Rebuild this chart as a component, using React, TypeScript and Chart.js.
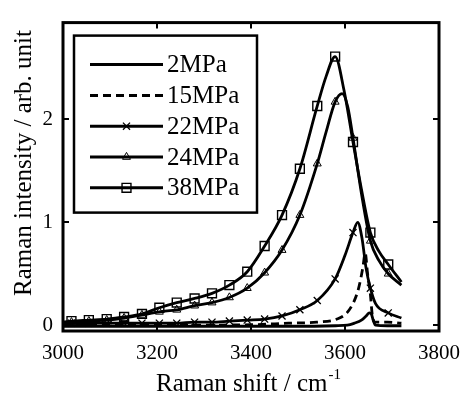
import React, { useEffect, useRef } from "react";
import { Chart, registerables } from "chart.js";

Chart.register(...registerables);

const LABELS = ["2MPa", "15MPa", "22MPa", "24MPa", "38MPa"];
const MARKER_X = [3018, 3055, 3093, 3130, 3168, 3205, 3242, 3280, 3317, 3354, 3392, 3429, 3466, 3504, 3541, 3579, 3617, 3654, 3692];

const X_2MPA = [3000, 3200, 3400, 3500, 3580, 3605, 3620, 3635, 3645, 3652, 3656, 3660, 3665, 3690, 3720];
const Y_2MPA = [-0.01, -0.01, -0.01, -0.01, -0.005, 0.0, 0.02, 0.05, 0.09, 0.12, 0.11, 0.05, 0.0, -0.005, -0.005];

const X_15MPA = [3000, 3200, 3400, 3480, 3540, 3583, 3604, 3619, 3629, 3638, 3643, 3648, 3654, 3658, 3663, 3690, 3720];
const Y_15MPA = [0.0, 0.0, 0.005, 0.02, 0.03, 0.06, 0.12, 0.23, 0.36, 0.56, 0.7, 0.5, 0.3, 0.1, 0.03, 0.03, 0.02];

const X_22MPA = [3000, 3018, 3055, 3093, 3130, 3168, 3205, 3242, 3280, 3317, 3354, 3392, 3429, 3466, 3504, 3541, 3579, 3600, 3617, 3627, 3636, 3645, 3654, 3665, 3692, 3720];
const Y_22MPA = [0.02, 0.02, 0.02, 0.02, 0.02, 0.02, 0.02, 0.02, 0.03, 0.03, 0.04, 0.05, 0.06, 0.09, 0.15, 0.24, 0.45, 0.68, 0.9, 1.0, 0.85, 0.55, 0.36, 0.21, 0.12, 0.07];

const X_24MPA = [3000, 3018, 3055, 3093, 3130, 3168, 3205, 3242, 3280, 3317, 3354, 3392, 3429, 3466, 3504, 3541, 3560, 3579, 3594, 3606, 3617, 3635, 3654, 3672, 3692, 3720];
const Y_24MPA = [0.03, 0.03, 0.04, 0.05, 0.07, 0.1, 0.13, 0.15, 0.19, 0.22, 0.27, 0.36, 0.51, 0.73, 1.07, 1.57, 1.88, 2.17, 2.25, 2.12, 1.82, 1.28, 0.82, 0.63, 0.5, 0.39];

const X_38MPA = [3000, 3018, 3055, 3093, 3130, 3168, 3205, 3242, 3280, 3317, 3354, 3392, 3429, 3466, 3504, 3541, 3560, 3579, 3598, 3617, 3635, 3654, 3672, 3692, 3720];
const Y_38MPA = [0.03, 0.04, 0.05, 0.06, 0.08, 0.11, 0.17, 0.22, 0.26, 0.31, 0.39, 0.52, 0.77, 1.07, 1.52, 2.13, 2.42, 2.61, 2.28, 1.78, 1.32, 0.9, 0.72, 0.59, 0.42];

const X_TICKS = [3000, 3200, 3400, 3600, 3800];
const Y_TICKS = [0, 1, 2];
const X_TITLE = "Raman shift / cm";
const X_TITLE_SUP = "-1";
const Y_TITLE = "Raman intensity / arb. unit";

const FONT = "'Liberation Serif', 'Times New Roman', serif";

type Style = { dash: number[]; marker: string | null; r: number; bw: number };
const STYLES: Style[] = [
  { dash: [], marker: null, r: 0, bw: 0 },
  { dash: [8, 5], marker: null, r: 0, bw: 0 },
  { dash: [], marker: "crossRot", r: 5, bw: 1.3 },
  { dash: [], marker: "triangle", r: 4.6, bw: 1 },
  { dash: [], marker: "rect", r: 6.3, bw: 1.4 },
];

function drawMarker(ctx: CanvasRenderingContext2D, style: string, x: number, y: number, r: number, bw: number) {
  ctx.save();
  ctx.lineWidth = bw;
  ctx.strokeStyle = "#000";
  ctx.setLineDash([]);
  ctx.beginPath();
  if (style === "rect") {
    const s = r / Math.SQRT2;
    ctx.rect(x - s, y - s, 2 * s, 2 * s);
  } else if (style === "triangle") {
    const h = (r * 3) / 2;
    const half = (h * 2) / Math.sqrt(3) / 2;
    ctx.moveTo(x, y - (2 * h) / 3);
    ctx.lineTo(x + half, y + h / 3);
    ctx.lineTo(x - half, y + h / 3);
    ctx.closePath();
  } else if (style === "crossRot") {
    const d = r * Math.SQRT1_2;
    ctx.moveTo(x - d, y - d);
    ctx.lineTo(x + d, y + d);
    ctx.moveTo(x - d, y + d);
    ctx.lineTo(x + d, y - d);
  }
  ctx.stroke();
  ctx.restore();
}

const decorPlugin = {
  id: "decor",
  afterDraw(chart: any) {
    const { ctx, chartArea: a, scales } = chart;
    ctx.save();
    ctx.strokeStyle = "#000";
    ctx.fillStyle = "#000";
    // inward ticks on all sides
    ctx.lineWidth = 2;
    const L = 6;
    scales.x.ticks.forEach((t: any) => {
      const px = Math.round(scales.x.getPixelForValue(t.value));
      ctx.beginPath();
      ctx.moveTo(px, a.bottom);
      ctx.lineTo(px, a.bottom - L);
      ctx.moveTo(px, a.top);
      ctx.lineTo(px, a.top + L);
      ctx.stroke();
    });
    scales.y.ticks.forEach((t: any) => {
      const py = Math.round(scales.y.getPixelForValue(t.value));
      ctx.beginPath();
      ctx.moveTo(a.left, py);
      ctx.lineTo(a.left + L, py);
      ctx.moveTo(a.right, py);
      ctx.lineTo(a.right - L, py);
      ctx.stroke();
    });
    // frame
    ctx.lineWidth = 3;
    ctx.strokeRect(a.left, a.top, a.right - a.left, a.bottom - a.top);

    // legend box
    const bx = a.left + 11;
    const by = a.top + 13;
    const bw = 183;
    const bh = 177;
    ctx.fillStyle = "#fff";
    ctx.fillRect(bx, by, bw, bh);
    ctx.lineWidth = 2.5;
    ctx.strokeRect(bx, by, bw, bh);
    ctx.fillStyle = "#000";
    ctx.font = `25px ${FONT}`;
    ctx.textBaseline = "middle";
    ctx.textAlign = "left";
    chart.data.datasets.forEach((ds: any, i: number) => {
      const st = STYLES[i];
      const y = by + 29 + i * 30.8;
      const x0 = bx + 16;
      const x1 = bx + 89;
      ctx.save();
      ctx.lineWidth = 3;
      ctx.setLineDash(st.dash);
      ctx.beginPath();
      ctx.moveTo(x0, y);
      ctx.lineTo(x1, y);
      ctx.stroke();
      ctx.restore();
      if (st.marker) drawMarker(ctx, st.marker, (x0 + x1) / 2, y, st.r, st.bw);
      ctx.fillText(ds.label, x1 + 4, y + 1);
    });

    // x title with superscript
    ctx.font = `25px ${FONT}`;
    const mainW = ctx.measureText(X_TITLE).width;
    ctx.font = `15px ${FONT}`;
    const supW = ctx.measureText(X_TITLE_SUP).width;
    const total = mainW + supW;
    const cx = (a.left + a.right) / 2 - 3;
    const sx = cx - total / 2;
    ctx.textBaseline = "alphabetic";
    ctx.textAlign = "left";
    ctx.font = `25px ${FONT}`;
    ctx.fillText(X_TITLE, sx, 391);
    ctx.font = `15px ${FONT}`;
    ctx.fillText(X_TITLE_SUP, sx + mainW + 1, 379);

    // y title
    ctx.save();
    ctx.translate(24, 163);
    ctx.rotate(-Math.PI / 2);
    ctx.font = `25px ${FONT}`;
    ctx.textAlign = "center";
    ctx.textBaseline = "middle";
    ctx.fillText(Y_TITLE, 0, 0);
    ctx.restore();

    ctx.restore();
  },
};

function makeData(xs: number[], ys: number[]) {
  return xs.map((x, i) => ({ x, y: ys[i] }));
}

export default function App() {
  const ref = useRef<HTMLCanvasElement | null>(null);
  useEffect(() => {
    const series = [
      makeData(X_2MPA, Y_2MPA),
      makeData(X_15MPA, Y_15MPA),
      makeData(X_22MPA, Y_22MPA),
      makeData(X_24MPA, Y_24MPA),
      makeData(X_38MPA, Y_38MPA),
    ];
    const chart = new Chart(ref.current as HTMLCanvasElement, {
      type: "line",
      data: {
        datasets: series.map((d, i) => {
          const st = STYLES[i];
          return {
            label: LABELS[i],
            data: d,
            borderColor: "#000",
            borderWidth: 2.8,
            borderDash: st.dash,
            fill: false,
            cubicInterpolationMode: "monotone",
            pointStyle: st.marker || "circle",
            pointRadius: (c: any) => (st.marker && c.raw && MARKER_X.includes(c.raw.x) ? st.r : 0),
            pointBorderWidth: st.bw,
            pointBorderColor: "#000",
            pointBackgroundColor: "rgba(0,0,0,0)",
          } as any;
        }),
      },
      options: {
        animation: false,
        responsive: false,
        devicePixelRatio: 1,
        events: [],
        layout: { padding: { top: 10, right: 27, left: 0, bottom: 0 } },
        plugins: { legend: { display: false }, tooltip: { enabled: false } },
        scales: {
          x: {
            type: "linear",
            min: 3000,
            max: 3800,
            afterBuildTicks: (s: any) => {
              s.ticks = X_TICKS.map((v) => ({ value: v }));
            },
            afterFit: (s: any) => {
              s.height = 66;
            },
            grid: { display: false, drawTicks: false },
            border: { display: false },
            ticks: {
              color: "#000",
              font: { family: FONT, size: 21 },
              padding: 10,
              maxRotation: 0,
              callback: (v: any) => String(v),
            },
          },
          y: {
            type: "linear",
            min: -0.056,
            max: 2.94,
            afterBuildTicks: (s: any) => {
              s.ticks = Y_TICKS.map((v) => ({ value: v }));
            },
            afterFit: (s: any) => {
              s.width = 63;
            },
            grid: { display: false, drawTicks: false },
            border: { display: false },
            ticks: { color: "#000", font: { family: FONT, size: 21 }, padding: 10, callback: (v: any) => String(v) },
          },
        },
      },
      plugins: [decorPlugin],
    } as any);
    return () => chart.destroy();
  }, []);
  return (
    <div style={{ position: "absolute", left: 0, top: 0, width: 470, height: 397, background: "#fff" }}>
      <canvas ref={ref} width={470} height={397} />
    </div>
  );
}
